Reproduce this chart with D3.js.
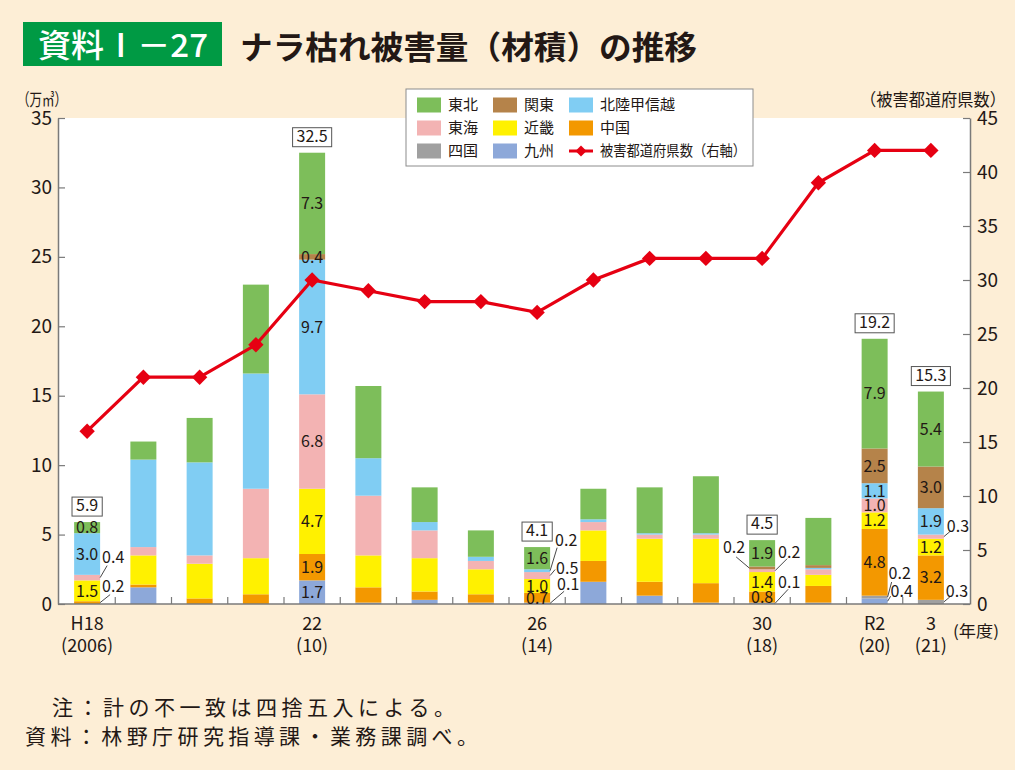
<!DOCTYPE html>
<html><head><meta charset="utf-8">
<script src="https://cdn.jsdelivr.net/npm/d3@7"></script>
<style>body{margin:0;background:#FDEED6;} svg{display:block}</style>
</head><body><svg id="c" width="1015" height="770"></svg>
<script>
// ---------- data ----------
const years = ["2006","2007","2008","2009","2010","2011","2012","2013","2014","2015","2016","2017","2018","2019","2020","2021"];
const kyushu   = [0,   1.2, 0,   0,   1.7, 0.1, 0.3, 0.1, 0.1, 1.6, 0.6, 0.1, 0.1, 0.1, 0.4, 0  ];
const shikoku  = [0,   0,   0,   0,   0,   0,   0,   0,   0,   0,   0,   0,   0,   0,   0.2, 0.3];
const chugoku  = [0.2, 0.2, 0.4, 0.7, 1.9, 1.1, 0.6, 0.6, 0.7, 1.5, 1.0, 1.4, 0.8, 1.2, 4.8, 3.2];
const kinki    = [1.5, 2.1, 2.5, 2.6, 4.7, 2.3, 2.4, 1.8, 1.0, 2.2, 3.1, 3.2, 1.4, 0.8, 1.2, 1.2];
const tokai    = [0.4, 0.6, 0.6, 5.0, 6.8, 4.3, 2.0, 0.6, 0.5, 0.6, 0.3, 0.3, 0.2, 0.4, 1.0, 0.3];
const hokuriku = [3.0, 6.3, 6.7, 8.3, 9.7, 2.7, 0.6, 0.3, 0.2, 0.2, 0.1, 0.1, 0,   0.1, 1.1, 1.9];
const kanto    = [0,   0,   0,   0,   0.4, 0,   0,   0,   0,   0,   0,   0,   0.2, 0.2, 2.5, 3.0];
const tohoku   = [0.8, 1.3, 3.2, 6.4, 7.3, 5.2, 2.5, 1.9, 1.6, 2.2, 3.3, 4.1, 1.9, 3.4, 7.9, 5.4];
const prefCount = [16, 21, 21, 24, 30, 29, 28, 28, 27, 30, 32, 32, 32, 39, 42, 42];

const seriesNames = ["九州","四国","中国","近畿","東海","北陸甲信越","関東","東北"];
const seriesValues = [kyushu, shikoku, chugoku, kinki, tokai, hokuriku, kanto, tohoku];
const lineName = "被害都道府県数（右軸）";

const labelYears  = ["2006","2010","2014","2018","2020","2021"];
const labelTop    = ["H18","22","26","30","R2","3"];
const labelBottom = ["(2006)","(10)","(14)","(18)","(20)","(21)"];
const totalLabels = ["5.9","32.5","4.1","4.5","19.2","15.3"];
const leftTicks  = [0,5,10,15,20,25,30,35];
const rightTicks = [0,5,10,15,20,25,30,35,40,45];

// ---------- styles / layout ----------
const colors = {"九州":"#8DA8D9","四国":"#A0A0A0","中国":"#F39800","近畿":"#FFF100","東海":"#F3B3B3","北陸甲信越":"#80CDF3","関東":"#B5834A","東北":"#7DBE5A"};
const legendOrder = [["東北","関東","北陸甲信越"],["東海","近畿","中国"],["四国","九州",null]];
const callouts = [
  {year:"2006", key:"中国", side:1, tx:2, ty:-11, lx:10, ly:-8},
  {year:"2006", key:"東海", side:1, tx:2, ty:-15, lx:7, ly:-12},
  {year:"2014", key:"九州", side:1, tx:7, ty:-13, lx:14, ly:-12},
  {year:"2014", key:"東海", side:1, tx:6, ty:-2, lx:5, ly:-6},
  {year:"2014", key:"北陸甲信越", side:1, tx:5, ty:-25, lx:7, ly:-23},
  {year:"2018", key:"九州", side:1, tx:3, ty:-15, lx:13, ly:-14},
  {year:"2018", key:"東海", side:1, tx:3, ty:-13, lx:12, ly:-12},
  {year:"2018", key:"関東", side:-1, tx:4, ty:-15, lx:13, ly:-11},
  {year:"2020", key:"九州", side:1, tx:3, ty:-4, lx:3, ly:-5},
  {year:"2020", key:"四国", side:1, tx:1, ty:-18, lx:4, ly:-15},
  {year:"2021", key:"四国", side:1, tx:2, ty:-5, lx:6, ly:-5},
  {year:"2021", key:"東海", side:1, tx:3, ty:-5, lx:6, ly:-5}
];
const FONT = "'Noto Sans CJK JP','Noto Sans',sans-serif";
const TXT = "#231815";

const svg = d3.select("#c").style("font-family", FONT);
const L = 58, R = 970, T = 118, B = 604;

const x = d3.scaleBand().domain(years).range([59, 959]).paddingInner(0.538).paddingOuter(0.269);
const y = d3.scaleLinear().domain([0,35]).range([B, T]);
const yR = d3.scaleLinear().domain([0,45]).range([B, T]);

// title
svg.append("rect").attr("x",23).attr("y",22).attr("width",199).attr("height",44).attr("fill","#009A44");
svg.append("text").attr("x",38).attr("y",57).attr("fill","#fff").attr("font-size",32).attr("font-weight",500)
  .attr("textLength",170).attr("lengthAdjust","spacingAndGlyphs").text("資料Ⅰ－27");
svg.append("text").attr("x",240).attr("y",59).attr("fill",TXT).attr("font-size",32).attr("font-weight",700)
  .attr("textLength",457).attr("lengthAdjust","spacingAndGlyphs").text("ナラ枯れ被害量（材積）の推移");

// plot bg
svg.append("rect").attr("x",L).attr("y",T).attr("width",R-L).attr("height",B-T).attr("fill","#fff");

// axis titles
svg.append("text").attr("x",17).attr("y",106).attr("font-size",17).attr("fill",TXT)
  .attr("textLength",50).attr("lengthAdjust","spacingAndGlyphs").text("（万㎥）");
svg.append("text").attr("x",860).attr("y",106).attr("font-size",17).attr("fill",TXT)
  .attr("textLength",146).attr("lengthAdjust","spacingAndGlyphs").text("（被害都道府県数）");
svg.append("text").attr("x",953).attr("y",637).attr("font-size",16).attr("fill",TXT)
  .attr("textLength",46).attr("lengthAdjust","spacingAndGlyphs").text("(年度)");

// bars
const rows = years.map((yr,i)=>{const o={year:yr}; seriesNames.forEach((s,j)=>o[s]=seriesValues[j][i]); return o;});
const stack = d3.stack().keys(seriesNames)(rows);
const gBars = svg.append("g");
stack.forEach(layer=>{
  gBars.selectAll(null).data(layer.filter(d=>d[1]-d[0]>0)).join("rect")
    .attr("x",d=>x(d.data.year)).attr("width",x.bandwidth())
    .attr("y",d=>y(d[1])).attr("height",d=>y(d[0])-y(d[1]))
    .attr("fill",colors[layer.key]);
});

// axes
const axisColor = "#7a7a7a";
const gl = svg.append("g").attr("transform",`translate(${L},0)`)
  .call(d3.axisLeft(y).tickValues(leftTicks).tickSizeInner(-7).tickSizeOuter(0).tickPadding(6));
const gr = svg.append("g").attr("transform",`translate(${R},0)`)
  .call(d3.axisRight(yR).tickValues(rightTicks).tickSizeInner(-7).tickSizeOuter(0).tickPadding(7));
[gl,gr].forEach(g=>{
  g.select(".domain").attr("stroke",axisColor).attr("stroke-width",1.5);
  g.selectAll(".tick line").attr("stroke",axisColor).attr("stroke-width",1.2);
  g.selectAll(".tick text").attr("font-size",19).attr("fill",TXT).attr("font-family",FONT);
});
svg.append("line").attr("x1",L).attr("x2",R).attr("y1",B).attr("y2",B).attr("stroke",axisColor).attr("stroke-width",1.5);
const step = x.step();
svg.append("g").selectAll("line").data(d3.range(1,years.length)).join("line")
  .attr("x1",k=>59+k*step).attr("x2",k=>59+k*step).attr("y1",B).attr("y2",B-7)
  .attr("stroke",axisColor).attr("stroke-width",1.2);

// x labels
labelYears.forEach((yr,i)=>{
  const cx = x(yr)+x.bandwidth()/2;
  svg.append("text").attr("x",cx).attr("y",630).attr("text-anchor","middle").attr("font-size",18).attr("fill",TXT).text(labelTop[i]);
  svg.append("text").attr("x",cx).attr("y",652).attr("text-anchor","middle").attr("font-size",18).attr("fill",TXT).text(labelBottom[i]);
});

// value labels
const fmt = d3.format(".1f");
const gLab = svg.append("g").attr("font-size",16).attr("fill",TXT);
labelYears.forEach((yr,i)=>{
  const idx = years.indexOf(yr);
  stack.forEach(layer=>{
    const d = layer[idx];
    const v = d[1]-d[0];
    if (v<=0) return;
    const co = callouts.find(c=>c.year===yr && c.key===layer.key);
    const midY = y((d[0]+d[1])/2);
    if (!co) {
      gLab.append("text").attr("x",x(yr)+x.bandwidth()/2).attr("y",midY).attr("dy","0.36em")
        .attr("text-anchor","middle").text(fmt(v));
    } else {
      const ex = co.side>0 ? x(yr)+x.bandwidth() : x(yr);
      gLab.append("line").attr("x1",ex).attr("y1",midY).attr("x2",ex+co.side*co.lx).attr("y2",midY+co.ly)
        .attr("stroke","#333").attr("stroke-width",0.9);
      gLab.append("text").attr("x",ex+co.side*co.tx).attr("y",midY+co.ty)
        .attr("text-anchor",co.side>0?"start":"end").text(fmt(v));
    }
  });
  // total box
  const top = y(d3.sum(seriesValues,s=>s[idx]));
  const cx = x(yr)+x.bandwidth()/2;
  const t = gLab.append("text").attr("x",cx).attr("y",top-11).attr("text-anchor","middle").text(totalLabels[i]);
  const w = t.node().getComputedTextLength()+8;
  gLab.insert("rect","text").attr("x",cx-w/2).attr("y",top-25).attr("width",w).attr("height",19)
    .attr("fill","#fff").attr("stroke","#555").attr("stroke-width",1);
});

// line
const red = "#E60012";
const pts = years.map((yr,i)=>[x(yr)+x.bandwidth()/2, yR(prefCount[i])]);
svg.append("path").attr("d",d3.line()(pts)).attr("fill","none").attr("stroke",red).attr("stroke-width",3.2);
const diamond = d3.symbol(d3.symbolSquare, 118)();
svg.append("g").selectAll("path").data(pts).join("path")
  .attr("d",diamond).attr("transform",p=>`translate(${p[0]},${p[1]}) rotate(45)`).attr("fill",red);

// legend
const lg = svg.append("g");
lg.append("rect").attr("x",406).attr("y",89).attr("width",347).attr("height",77).attr("fill","#fff").attr("stroke","#8c8c8c");
const colX = [417,493,569], rowY = [105,128,151];
legendOrder.forEach((row,ri)=>row.forEach((k,ci)=>{
  const cx = colX[ci], cy = rowY[ri];
  if (k) {
    lg.append("rect").attr("x",cx).attr("y",cy-7.5).attr("width",24).attr("height",15).attr("fill",colors[k]);
    lg.append("text").attr("x",cx+31).attr("y",cy).attr("dy","0.36em").attr("font-size",15).attr("fill",TXT).text(k);
  } else {
    lg.append("line").attr("x1",cx).attr("x2",cx+24).attr("y1",cy).attr("y2",cy).attr("stroke",red).attr("stroke-width",3);
    lg.append("path").attr("d",d3.symbol(d3.symbolSquare,60)()).attr("transform",`translate(${cx+12},${cy}) rotate(45)`).attr("fill",red);
    lg.append("text").attr("x",cx+31).attr("y",cy).attr("dy","0.36em").attr("font-size",15).attr("fill",TXT)
      .attr("textLength",146).attr("lengthAdjust","spacingAndGlyphs").text(lineName);
  }
}));

// notes
svg.append("text").attr("x",52).attr("y",715).attr("font-size",21).attr("fill",TXT)
  .attr("textLength",403).attr("lengthAdjust","spacing").text("注：計の不一致は四捨五入による。");
svg.append("text").attr("x",25).attr("y",744).attr("font-size",21).attr("fill",TXT)
  .attr("textLength",453).attr("lengthAdjust","spacing").text("資料：林野庁研究指導課・業務課調べ。");
</script></body></html>
